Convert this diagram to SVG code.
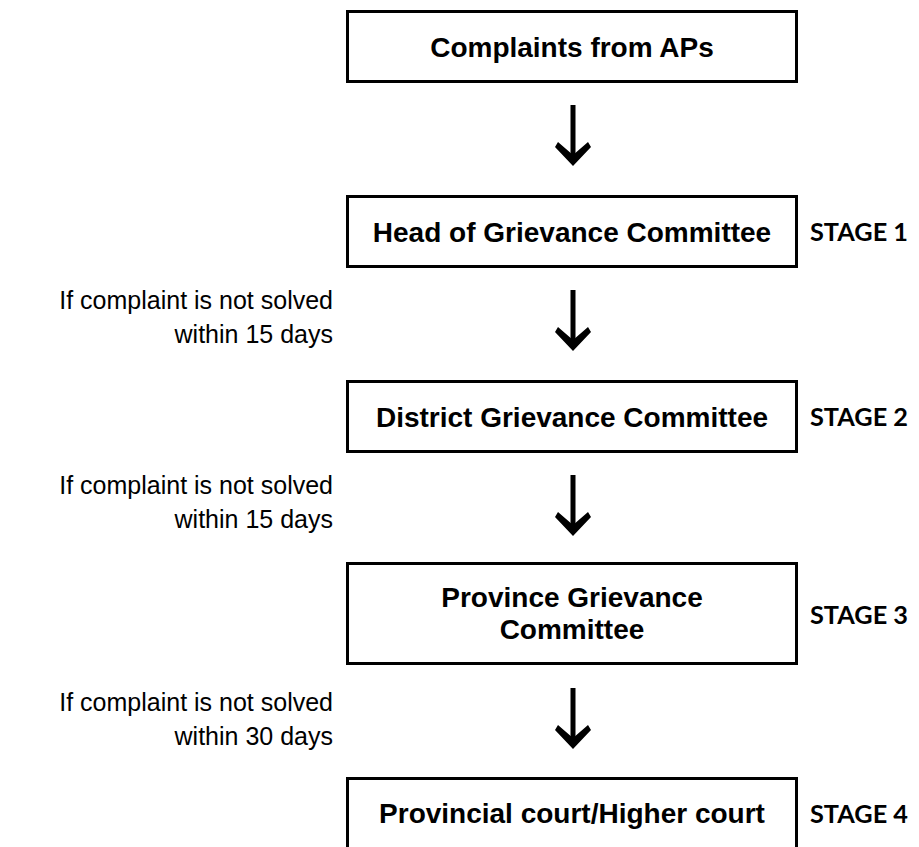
<svg xmlns="http://www.w3.org/2000/svg" width="919" height="847" viewBox="0 0 919 847">
<style>
.box{fill:#fff;stroke:#000;stroke-width:3}
.t{font-family:"Liberation Sans",Arial,sans-serif;font-weight:bold;font-size:28px;text-anchor:middle;fill:#000}
.st{font-family:"Lato","Open Sans",sans-serif;font-weight:bold;font-size:25px;fill:#000}
.lb{font-family:"Liberation Sans",Arial,sans-serif;font-size:25px;text-anchor:end;fill:#000}
</style>
<defs>
<g id="arr">
<rect x="-2.5" y="0" width="5" height="52" fill="#000"/>
<path d="M0,61 L-18,42 L-15,37 L0,50 L15,37 L18,42 Z" fill="#000"/>
</g>
</defs>
<g id="n1"><rect class="box" x="347.5" y="11.5" width="449" height="70"/><text class="t" x="572" y="57">Complaints from APs</text></g>
<g id="n2"><rect class="box" x="347.5" y="196.5" width="449" height="70"/><text class="t" x="572" y="241.5">Head of Grievance Committee</text><text class="st" x="810" y="241" textLength="98" lengthAdjust="spacingAndGlyphs">STAGE 1</text></g>
<g id="n3"><rect class="box" x="347.5" y="381.5" width="449" height="70"/><text class="t" x="572" y="426.5">District Grievance Committee</text><text class="st" x="810" y="426" textLength="98" lengthAdjust="spacingAndGlyphs">STAGE 2</text></g>
<g id="n4"><rect class="box" x="347.5" y="563.5" width="449" height="100"/><text class="t" x="572" y="607">Province Grievance</text><text class="t" x="572" y="639">Committee</text><text class="st" x="810" y="624" textLength="98" lengthAdjust="spacingAndGlyphs">STAGE 3</text></g>
<g id="n5"><rect class="box" x="347.5" y="778.5" width="449" height="100"/><text class="t" x="572" y="823">Provincial court/Higher court</text><text class="st" x="810" y="823" textLength="98" lengthAdjust="spacingAndGlyphs">STAGE 4</text></g>
<g id="labels">
<text class="lb" x="333" y="309">If complaint is not solved</text><text class="lb" x="333" y="343">within 15 days</text>
<text class="lb" x="333" y="494">If complaint is not solved</text><text class="lb" x="333" y="528">within 15 days</text>
<text class="lb" x="333" y="711">If complaint is not solved</text><text class="lb" x="333" y="745">within 30 days</text>
</g>
<g id="connectors">
<use href="#arr" x="573" y="105"/>
<use href="#arr" x="573" y="290"/>
<use href="#arr" x="573" y="475"/>
<use href="#arr" x="573" y="688"/>
</g>
</svg>
